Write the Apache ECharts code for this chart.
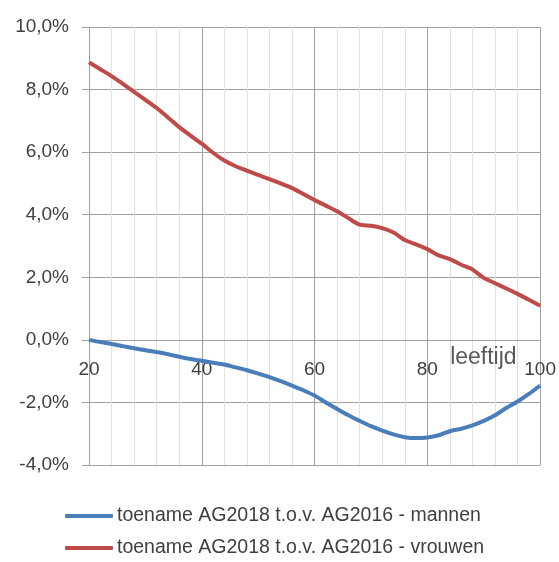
<!DOCTYPE html>
<html>
<head>
<meta charset="utf-8">
<script src="https://cdn.jsdelivr.net/npm/echarts@6/dist/echarts.min.js"></script>
<style>
  html, body { margin: 0; padding: 0; background: #fff; }
  #chart { width: 559px; height: 562px; }
</style>
</head>
<body>
<div id="chart"></div>
<script>
// leeftijd (x) en toename in % (y)
var ages = [20, 22, 24, 26, 28, 30, 32, 34, 36, 38, 40, 42, 44, 46, 48, 50, 52, 54, 56, 58,
  60, 62, 64, 66, 68, 70, 72, 74, 76, 78, 80, 82, 84, 86, 88, 90, 92, 94, 96, 98, 100];
var mannen = [0.0, -0.07, -0.13, -0.20, -0.27, -0.33, -0.39, -0.46, -0.54, -0.61, -0.67, -0.73,
  -0.79, -0.88, -0.97, -1.08, -1.19, -1.32, -1.46, -1.61, -1.78, -2.00, -2.21, -2.41, -2.59,
  -2.76, -2.90, -3.02, -3.11, -3.14, -3.12, -3.05, -2.92, -2.84, -2.73, -2.59, -2.41, -2.18,
  -1.97, -1.73, -1.46];
var vrouwen = [8.87, 8.65, 8.43, 8.18, 7.93, 7.67, 7.41, 7.11, 6.80, 6.53, 6.27, 5.98, 5.73,
  5.55, 5.41, 5.27, 5.14, 5.00, 4.85, 4.66, 4.47, 4.29, 4.11, 3.89, 3.68, 3.65, 3.57, 3.43,
  3.19, 3.05, 2.90, 2.70, 2.58, 2.40, 2.25, 1.98, 1.81, 1.64, 1.47, 1.28, 1.09];
var seriesNames = ["toename AG2018 t.o.v. AG2016 - mannen", "toename AG2018 t.o.v. AG2016 - vrouwen"];

var yMin = -4, yMax = 10;
var gridTop = 27, gridBottom = 97, chartH = 562;

function pairs(ys) {
  return ages.map(function (a, i) { return [a, ys[i]]; });
}

// x-as op de 0-lijn: afstand van onderrand van het plotvlak tot y=0
var plotH = chartH - gridTop - gridBottom;
var zeroOffset = -plotH * (0 - yMin) / (yMax - yMin);

var font = "Liberation Sans";
var chart = echarts.init(document.getElementById("chart"));
chart.setOption({
  animation: false,
  color: ["#4a7ebb", "#be4b48"],
  textStyle: { fontFamily: font },
  grid: { left: 89, right: 18, top: gridTop, bottom: gridBottom },
  legend: {
    orient: "vertical",
    left: 65,
    top: 506,
    padding: 0,
    icon: "roundRect",
    itemWidth: 48,
    itemHeight: 4,
    itemGap: 12,
    textStyle: { fontFamily: font, fontSize: 19.5, color: "#404040", padding: [0, 0, 0, -1] },
    data: seriesNames
  },
  xAxis: {
    type: "value",
    min: 20,
    max: 100,
    interval: 20,
    offset: zeroOffset,
    name: "leeftijd",
    nameLocation: "end",
    nameGap: -90,
    nameTextStyle: { fontFamily: font, fontSize: 23, color: "#595959", align: "left", verticalAlign: "top", padding: [6, 0, 0, 0] },
    axisLine: { onZero: false, lineStyle: { color: "#a0a0a0", width: 1 } },
    axisTick: { show: false },
    axisLabel: { fontFamily: font, fontSize: 19, color: "#404040", margin: 20 },
    splitLine: { show: true, lineStyle: { color: "#a0a0a0", width: 1 } },
    minorTick: { show: false, splitNumber: 5 },
    minorSplitLine: { show: true, lineStyle: { color: "#e2e2e2", width: 1 } }
  },
  yAxis: {
    type: "value",
    min: yMin,
    max: yMax,
    interval: 2,
    axisLine: { show: true, lineStyle: { color: "#a0a0a0", width: 1 } },
    axisTick: { show: true, length: 7, lineStyle: { color: "#a0a0a0" } },
    axisLabel: {
      fontFamily: font, fontSize: 19, color: "#404040", margin: 20,
      formatter: function (v) { return v.toFixed(1).replace(".", ",") + "%"; }
    },
    splitLine: { show: true, lineStyle: { color: "#a0a0a0", width: 1 } }
  },
  series: [
    { name: seriesNames[0], type: "line", symbol: "none", smooth: 0.25, data: pairs(mannen), lineStyle: { width: 4 } },
    { name: seriesNames[1], type: "line", symbol: "none", smooth: 0.25, data: pairs(vrouwen), lineStyle: { width: 4 } }
  ]
});
</script>
</body>
</html>
